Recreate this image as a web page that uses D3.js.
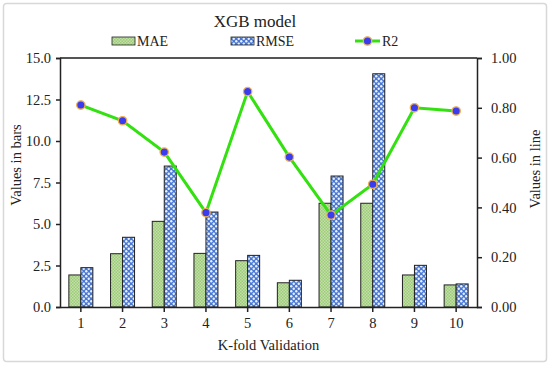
<!DOCTYPE html>
<html><head><meta charset="utf-8">
<script src="https://cdn.jsdelivr.net/npm/d3@7"></script>
<style>body{margin:0;background:#fff}svg{display:block}svg text{font-family:"Liberation Serif","Times New Roman",serif !important;fill:#222}</style>
</head><body>
<script>
const folds = ["1","2","3","4","5","6","7","8","9","10"];
const mae  = [1.93, 3.21, 5.16, 3.23, 2.79, 1.46, 6.25, 6.25, 1.93, 1.33];
const rmse = [2.37, 4.20, 8.49, 5.72, 3.11, 1.61, 7.89, 14.05, 2.51, 1.39];
const r2   = [0.811, 0.748, 0.622, 0.379, 0.865, 0.602, 0.369, 0.493, 0.80, 0.787];
const leftTicks = [0, 2.5, 5, 7.5, 10, 12.5, 15];
const rightTicks = [0, 0.2, 0.4, 0.6, 0.8, 1.0];

const W = 550, H = 365;
const m = {l:60, r:73, t:58, b:58};
const FF = '"Liberation Serif","Times New Roman",serif';
const svg = d3.select("body").append("svg").attr("width", W).attr("height", H).attr("font-family", FF);
const defs = svg.append("defs");

const p1 = defs.append("pattern").attr("id","pMae").attr("patternUnits","userSpaceOnUse").attr("width",3).attr("height",3);
p1.append("rect").attr("width",3).attr("height",3).attr("fill","#c2e0a8");
p1.append("rect").attr("width",1.5).attr("height",1.5).attr("fill","#9ccb7a");
p1.append("rect").attr("x",1.5).attr("y",1.5).attr("width",1.5).attr("height",1.5).attr("fill","#9ccb7a");
const p2 = defs.append("pattern").attr("id","pRmse").attr("patternUnits","userSpaceOnUse").attr("width",5).attr("height",5);
p2.append("rect").attr("width",5).attr("height",5).attr("fill","#4a78d0");
p2.append("circle").attr("cx",1.25).attr("cy",1.25).attr("r",1.2).attr("fill","#e8efff");
p2.append("circle").attr("cx",3.75).attr("cy",3.75).attr("r",1.2).attr("fill","#e8efff");

svg.append("rect").attr("x",3.5).attr("y",3.5).attr("width",W-7).attr("height",H-7).attr("fill","none").attr("stroke","#d8d8d8").attr("stroke-width",1.5).attr("rx",3);

const x = d3.scaleBand().domain(folds).range([m.l, W-m.r]);
const yL = d3.scaleLinear().domain([0,15]).range([H-m.b, m.t]);
const yR = d3.scaleLinear().domain([0,1]).range([H-m.b, m.t]);
const bw = 12;

const g = svg.append("g");
g.selectAll(".mae").data(mae).join("rect")
  .attr("x",(d,i)=>x(folds[i])+x.bandwidth()/2-bw).attr("width",bw)
  .attr("y",d=>yL(d)).attr("height",d=>yL(0)-yL(d))
  .attr("fill","url(#pMae)").attr("stroke","#222").attr("stroke-width",1);
g.selectAll(".rmse").data(rmse).join("rect")
  .attr("x",(d,i)=>x(folds[i])+x.bandwidth()/2).attr("width",bw)
  .attr("y",d=>yL(d)).attr("height",d=>yL(0)-yL(d))
  .attr("fill","url(#pRmse)").attr("stroke","#222").attr("stroke-width",1);

svg.append("line").attr("x1",m.l).attr("x2",W-m.r).attr("y1",m.t).attr("y2",m.t).attr("stroke","#555").attr("stroke-width",2);

const axL = svg.append("g").attr("transform",`translate(${m.l},0)`)
  .call(d3.axisLeft(yL).tickValues(leftTicks).tickFormat(d3.format(".1f")).tickSize(4).tickPadding(5));
const axR = svg.append("g").attr("transform",`translate(${W-m.r},0)`)
  .call(d3.axisRight(yR).tickValues(rightTicks).tickFormat(d3.format(".2f")).tickSize(5).tickPadding(9));
const axB = svg.append("g").attr("transform",`translate(0,${H-m.b})`)
  .call(d3.axisBottom(x).tickSize(5).tickPadding(6).tickSizeOuter(0));
[axL,axR,axB].forEach(a=>{
  a.attr("font-family",FF).attr("font-size",14.5);
  a.selectAll("path,line").attr("stroke","#222").attr("stroke-width",1.5);
  a.selectAll("text").attr("fill","#222");
});

const line = d3.line().x((d,i)=>x(folds[i])+x.bandwidth()/2).y(d=>yR(d));
svg.append("path").datum(r2).attr("d",line).attr("fill","none").attr("stroke","#33e010").attr("stroke-width",3);
svg.selectAll(".pt").data(r2).join("circle")
  .attr("cx",(d,i)=>x(folds[i])+x.bandwidth()/2).attr("cy",d=>yR(d)).attr("r",4.2)
  .attr("fill","#3a3cf0").attr("stroke","#f0b050").attr("stroke-width",1.3);

svg.append("text").attr("x",255).attr("y",27).attr("text-anchor","middle").attr("font-size",17).text("XGB model");
svg.append("text").attr("x",(m.l+W-m.r)/2).attr("y",350).attr("text-anchor","middle").attr("font-size",14.5).text("K-fold Validation");
svg.append("text").attr("transform",`translate(21,165) rotate(-90)`).attr("text-anchor","middle").attr("font-size",14.5).text("Values in bars");
svg.append("text").attr("transform",`translate(540,169) rotate(-90)`).attr("text-anchor","middle").attr("font-size",14.5).text("Values in line");

const ly = 41;
svg.append("rect").attr("x",112).attr("y",ly-4).attr("width",23).attr("height",8).attr("fill","url(#pMae)").attr("stroke","#222").attr("stroke-width",0.8);
svg.append("text").attr("x",137).attr("y",ly+5).attr("font-size",14).text("MAE");
svg.append("rect").attr("x",231).attr("y",ly-4).attr("width",23).attr("height",8).attr("fill","url(#pRmse)").attr("stroke","#222").attr("stroke-width",0.8);
svg.append("text").attr("x",256).attr("y",ly+5).attr("font-size",14).text("RMSE");
svg.append("line").attr("x1",355).attr("x2",380).attr("y1",ly).attr("y2",ly).attr("stroke","#33e010").attr("stroke-width",3);
svg.append("circle").attr("cx",367.5).attr("cy",ly).attr("r",4.2).attr("fill","#3a3cf0").attr("stroke","#f0b050").attr("stroke-width",1.3);
svg.append("text").attr("x",382).attr("y",ly+5).attr("font-size",14).text("R2");
</script>
</body></html>
